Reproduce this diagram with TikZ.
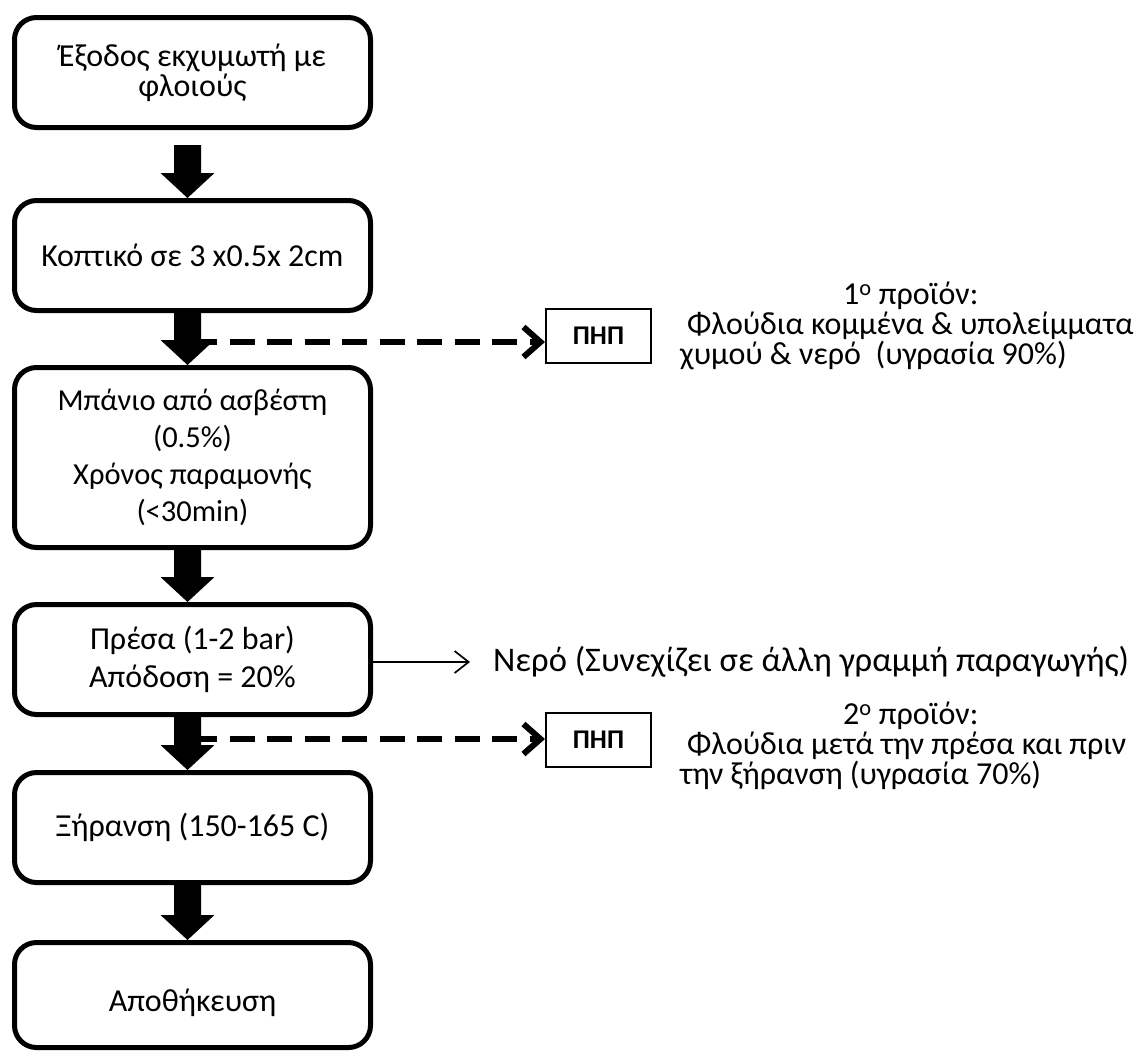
\documentclass[tikz,border=0pt]{standalone}
\usepackage{fontspec}
\setmainfont{Carlito}
\usetikzlibrary{arrows.meta,calc}
\newcommand{\fatdown}[3]{%
  \fill let \p1=(#1), \p2=(#2) in
    (\x1-18.5pt,\y1-#3) -- (\x1+8.5pt,\y1-#3) -- (\x1+8.5pt,\y2+25pt) --
    (\x1+22pt,\y2+25pt) -- (\x1-5pt,\y2) -- (\x1-32pt,\y2+25pt) --
    (\x1-18.5pt,\y2+25pt) -- cycle;}
\begin{document}
\begin{tikzpicture}[x=1pt,y=-1pt,
  procbox/.style={draw, line width=5pt, rounded corners=22pt, minimum width=356pt,
    align=center, font=\fontsize{32}{30}\selectfont, inner sep=0pt},
  phpbox/.style={draw, line width=2pt, minimum width=105pt, minimum height=54pt,
    font=\fontsize{27}{30}\selectfont\bfseries, inner sep=0pt},
  note/.style={font=\fontsize{32}{30}\selectfont, inner sep=0pt, align=left},
  dasharrow/.style={line width=6pt, dash pattern=on 25pt off 12.5pt, dash phase=9pt,
    -{Straight Barb[length=17pt,width=30pt]}},
  thinarrow/.style={line width=1.7pt, -{Straight Barb[length=14pt,width=22pt]}}
]
\useasboundingbox (0,0) rectangle (1143,1053);

\node[procbox, minimum height=110pt] (b1) at (192.5,72.5) {Έξοδος εκχυμωτή με\\φλοιούς};
\node[procbox, minimum height=110pt] (b2) at (192.5,255.5) {Κοπτικό σε 3 x0.5x 2cm};
\node[procbox, minimum height=180pt, font=\fontsize{30.5}{37}\selectfont] (b3) at (192.5,457.5)
  {Μπάνιο από ασβέστη\\(0.5\%)\\Χρόνος παραμονής\\(<30min)};
\node[procbox, minimum height=110pt, font=\fontsize{32}{38}\selectfont] (b4) at (192.5,659.5)
  {Πρέσα (1-2 bar)\\Απόδοση = 20\%};
\node[procbox, minimum height=110pt] (b5) at (192.5,827.5) {Ξήρανση (150-165 C)};
\node[procbox, minimum height=105pt, text height=39pt, text depth=7pt] (b6) at (192.5,995) {Αποθήκευση};

\fatdown{b1.south}{b2.north}{15pt}
\fatdown{b2.south}{b3.north}{0pt}
\fatdown{b3.south}{b4.north}{0pt}
\fatdown{b4.south}{b5.north}{0pt}
\fatdown{b5.south}{b6.north}{0pt}

\node[phpbox] (p1) at (598.5,336) {ΠΗΠ};
\node[phpbox] (p2) at (598.5,740) {ΠΗΠ};
\coordinate (d1) at (201,342);
\coordinate (d2) at (201,739);
\draw[dasharrow] (d1) -- (d1 -| p1.west);
\draw[dasharrow] (d2) -- (d2 -| p2.west);

\node[note, anchor=north west] (n1) at (680,282)
  {\hspace*{163pt}1\textsuperscript{ο} προϊόν:\\
   \hspace*{7pt}Φλούδια κομμένα \& υπολείμματα\\
   χυμού \& νερό\ \ (υγρασία 90\%)};
\node[note, anchor=north west] (n2) at (680,702)
  {\hspace*{163pt}2\textsuperscript{ο} προϊόν:\\
   \hspace*{7pt}Φλούδια μετά την πρέσα και πριν\\
   την ξήρανση (υγρασία 70\%)};

\node[note, anchor=west, font=\fontsize{34.5}{30}\selectfont] (water) at (493,662) {Νερό (Συνεχίζει σε άλλη γραμμή παραγωγής)};
\draw[thinarrow] (b4.east |- water.west) -- ([xshift=-23pt]water.west);
\end{tikzpicture}
\end{document}
